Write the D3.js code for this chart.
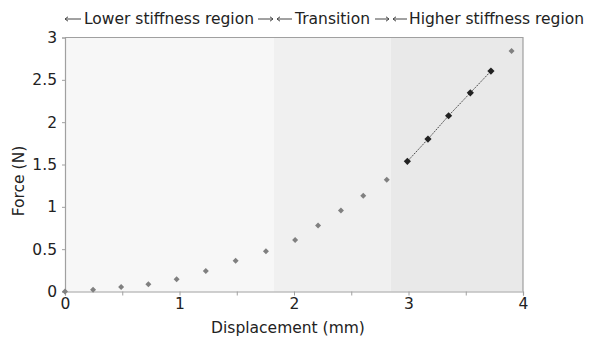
<!DOCTYPE html>
<html><head><meta charset="utf-8">
<script src="https://cdn.jsdelivr.net/npm/d3@7/dist/d3.min.js"></script>
<style>body{margin:0;background:#fff}svg{display:block}text{font-family:"DejaVu Sans",Verdana,sans-serif}</style>
</head><body><svg id="c" width="590" height="342"></svg>
<script>
const lowX  = [0, 0.245, 0.49, 0.728, 0.975, 1.23, 1.49, 1.755, 2.01, 2.21, 2.41, 2.605, 2.81, 3.90];
const lowY  = [0, 0.02, 0.053, 0.085, 0.144, 0.242, 0.364, 0.474, 0.608, 0.78, 0.958, 1.13, 1.32, 2.84];
const highX = [2.99, 3.17, 3.35, 3.54, 3.72];
const highY = [1.537, 1.80, 2.076, 2.347, 2.603];
const regions = [[0, 1.825], [1.825, 2.845], [2.845, 4]];
const regionFill = ["#f7f7f7", "#f0f0f0", "#e9e9e9"];
const xTicks = [0, 0.5, 1, 1.5, 2, 2.5, 3, 3.5, 4];
const xLabels = [0, 1, 2, 3, 4];
const yTicks = [0, 0.5, 1, 1.5, 2, 2.5, 3];
const headerLabels = [["Lower stiffness region", 84], ["Transition", 295], ["Higher stiffness region", 409]];
// arrows: [start x, end x, direction (-1 left, 1 right)]
const headerArrows = [[65, 81, -1], [258, 273, 1], [277, 292, -1], [375, 389, 1], [393, 407, -1]];

const svg = d3.select("#c");
const x = d3.scaleLinear().domain([0, 4]).range([65, 523]);
const y = d3.scaleLinear().domain([0, 3]).range([291.5, 37.5]);

svg.selectAll("rect.reg").data(regions).join("rect")
  .attr("x", d => x(d[0])).attr("width", d => x(d[1]) - x(d[0]))
  .attr("y", y(3)).attr("height", y(0) - y(3))
  .attr("fill", (d, i) => regionFill[i]);

svg.append("path").attr("d", `M${x(0)},${y(3)}H${x(4)}V${y(0)}`).attr("fill", "none").attr("stroke", "#a0a0a0").attr("stroke-width", 1.2);

const xa = svg.append("g").attr("transform", `translate(0,${y(0)})`)
  .call(d3.axisBottom(x).tickValues(xTicks).tickSize(4).tickFormat(d => xLabels.includes(d) ? d3.format("d")(d) : ""));
const ya = svg.append("g").attr("transform", `translate(${x(0)},0)`)
  .call(d3.axisLeft(y).tickValues(yTicks).tickSize(3).tickFormat(d => d));
[xa, ya].forEach(a => {
  a.select(".domain").attr("stroke", "#a0a0a0").attr("stroke-width", 1.2);
  a.selectAll(".tick line").attr("stroke", "#a0a0a0");
  a.selectAll("text").attr("fill", "#222").style("font-size", "15.5px").style("font-family", "DejaVu Sans");
});
xa.selectAll("text").attr("dy", "0.71em").attr("y", 6);
ya.selectAll("text").attr("x", -8);

const diamondPath = s => `M0,${-s}L${s},0L0,${s}L${-s},0Z`;
svg.selectAll("path.lp").data(lowX.map((v, i) => [v, lowY[i]])).join("path")
  .attr("d", diamondPath(3)).attr("fill", "#808080")
  .attr("transform", d => `translate(${x(d[0])},${y(d[1])})`);

const hp = highX.map((v, i) => [v, highY[i]]);
svg.append("path").datum(hp).attr("d", d3.line().x(d => x(d[0])).y(d => y(d[1])))
  .attr("fill", "none").attr("stroke", "#444").attr("stroke-width", 1).attr("stroke-dasharray", "1.5,1");
svg.selectAll("path.hp").data(hp).join("path")
  .attr("d", diamondPath(3.6)).attr("fill", "#222")
  .attr("transform", d => `translate(${x(d[0])},${y(d[1])})`);

svg.selectAll("text.hdr").data(headerLabels).join("text")
  .attr("x", d => d[1]).attr("y", 24).attr("fill", "#222").style("font-size", "15.5px")
  .text(d => d[0]);
const ay = 19;
svg.selectAll("path.arr").data(headerArrows).join("path")
  .attr("d", d => {
    const tip = d[2] < 0 ? d[0] : d[1];
    return `M${d[0]},${ay}H${d[1]}M${tip - 3 * d[2]},${ay - 2.2}L${tip},${ay}L${tip - 3 * d[2]},${ay + 2.2}`;
  })
  .attr("fill", "none").attr("stroke", "#444").attr("stroke-width", 1);

svg.append("text").attr("x", 288).attr("y", 333).attr("text-anchor", "middle").attr("fill", "#222").style("font-size", "15.5px").text("Displacement (mm)");
svg.append("text").attr("transform", "translate(24,181) rotate(-90)").attr("text-anchor", "middle").attr("fill", "#222").style("font-size", "15.5px").text("Force (N)");
</script></body></html>
